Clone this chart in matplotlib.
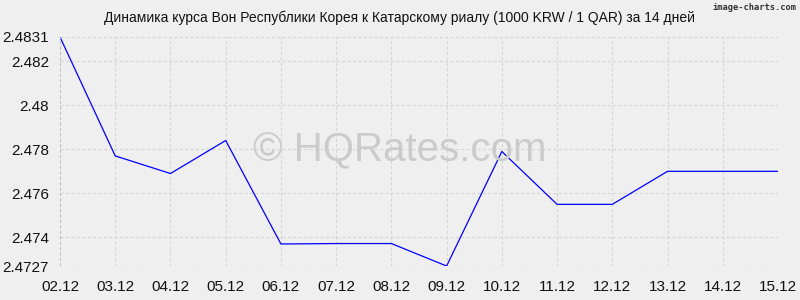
import matplotlib
matplotlib.use('Agg')
import matplotlib.pyplot as plt

plt.rcParams['font.family'] = ['Liberation Sans', 'DejaVu Sans']

# Data
dates = ['02.12', '03.12', '04.12', '05.12', '06.12', '07.12', '08.12',
         '09.12', '10.12', '11.12', '12.12', '13.12', '14.12', '15.12']
rates = [2.4831, 2.4777, 2.4769, 2.4784, 2.4737, 2.47372, 2.47372,
         2.4727, 2.4779, 2.4755, 2.4755, 2.4770, 2.4770, 2.4770]
y_ticks = [2.4727, 2.474, 2.476, 2.478, 2.48, 2.482, 2.4831]
y_labels = ['2.4727', '2.474', '2.476', '2.478', '2.48', '2.482', '2.4831']

bg = '#efefef'
fig = plt.figure(figsize=(8, 3), dpi=100, facecolor=bg)
ax = fig.add_axes([0.075, 0.1133, 0.8975, 0.7634], facecolor=bg)

x = range(len(dates))
ax.plot(x, rates, color='#0000ff', linewidth=0.9)

ax.set_xlim(0, len(dates) - 1)
ax.set_ylim(2.4727, 2.4831)
ax.set_xticks(list(x))
ax.set_xticklabels(dates)
ax.set_yticks(y_ticks)
ax.set_yticklabels(y_labels)
ax.tick_params(axis='both', length=0, labelsize=11, colors='#111111')
ax.tick_params(axis='y', pad=8)
ax.tick_params(axis='x', pad=10)

dash = (0, (3, 2.2))
ax.grid(True, linestyle=dash, color='#d4d4d4', linewidth=0.75)
for s in ax.spines.values():
    s.set_visible(False)
ax.axhline(2.4727, color='#bdbdbd', linestyle=dash, linewidth=0.75)
ax.axvline(0, color='#bdbdbd', linestyle=dash, linewidth=0.75)

fig.text(0.5, 0.94, 'Динамика курса Вон Республики Корея к Катарскому риалу (1000 KRW / 1 QAR) за 14 дней',
         ha='center', va='center', fontsize=10, color='#111111')
fig.text(0.996, 0.975, 'image-charts.com', ha='right', va='center', fontsize=6.3,
         family='DejaVu Sans Mono', color='#333333', fontweight='bold')
fig.text(0.5, 0.5, '© HQRates.com', ha='center', va='center', fontsize=29,
         color='#cbcbcb', zorder=0)

plt.savefig('out.png', dpi=100, facecolor=bg)
